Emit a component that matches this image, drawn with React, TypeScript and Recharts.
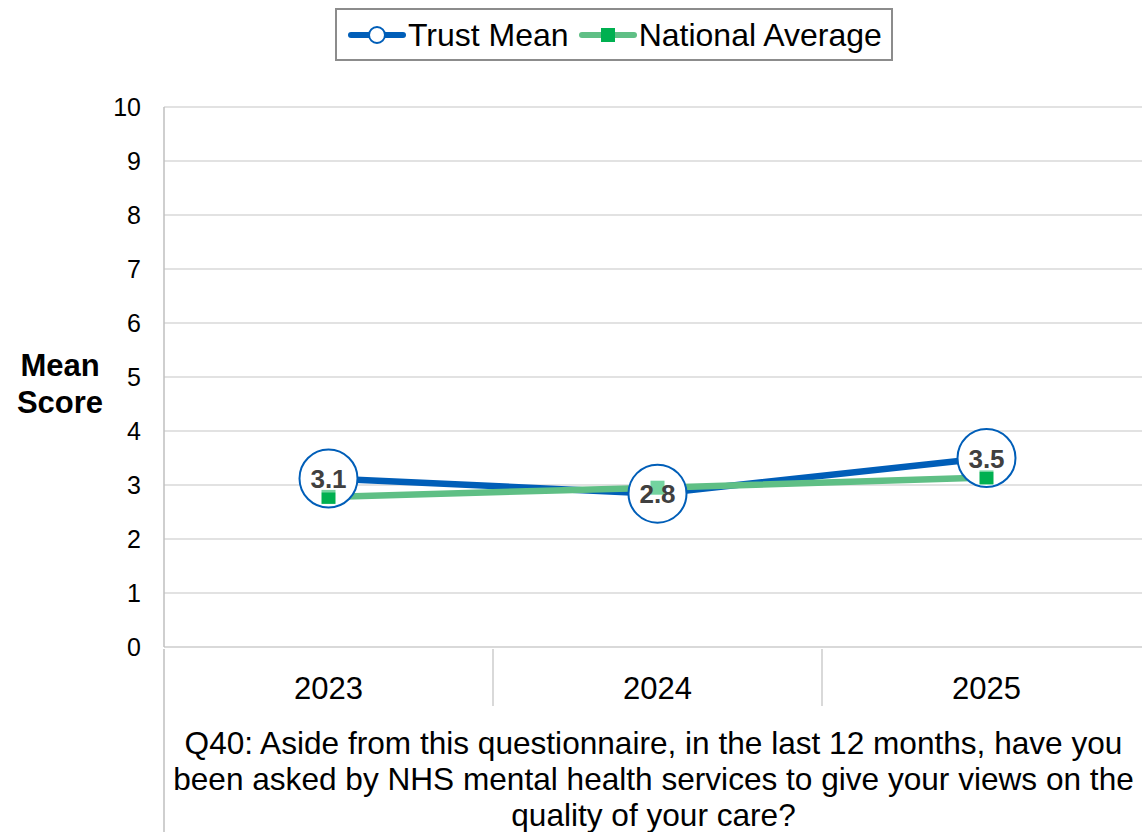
import React from 'react';
import { LineChart, Line, XAxis, YAxis, CartesianGrid, Legend, LabelList } from 'recharts';

const years = ['2023', '2024', '2025'];
const trustMean = [3.12, 2.84, 3.5];
const trustLabels = ['3.1', '2.8', '3.5'];
const nationalAverage = [2.78, 2.95, 3.14];
const yTicks = [0, 1, 2, 3, 4, 5, 6, 7, 8, 9, 10];
const seriesNames = ['Trust Mean', 'National Average'];
const yLabelLines = ['Mean', 'Score'];
const captionLines = [
  'Q40: Aside from this questionnaire, in the last 12 months, have you',
  'been asked by NHS mental health services to give your views on the',
  'quality of your care?',
];

const BLUE = '#005EB8';
const GREEN_LINE = '#5FBF85';
const GREEN_MARK = '#00B050';
const FONT = '"Liberation Sans", Arial, sans-serif';

const data = years.map((y, i) => ({
  year: y,
  trust: trustMean[i],
  national: nationalAverage[i],
  label: trustLabels[i],
}));

const SquareDot = (props: any) => {
  const { cx, cy, index } = props;
  if (cx == null || cy == null) return <g key={`sq-${index}`} />;
  return <rect key={`sq-${index}`} x={cx - 7} y={cy - 7} width={14} height={14} fill={GREEN_MARK} />;
};

const CircleDot = (props: any) => {
  const { cx, cy, index } = props;
  if (cx == null || cy == null) return <g key={`c-${index}`} />;
  return <circle key={`c-${index}`} cx={cx} cy={cy} r={29} fill="#ffffff" stroke={BLUE} strokeWidth={2} />;
};

const DataLabel = (props: any) => {
  const { x, y, value } = props;
  return (
    <g>
      <rect x={x - 19} y={y - 14} width={38} height={28} fill="#ffffff" fillOpacity={0.45} />
      <text x={x} y={y + 9.5} textAnchor="middle" fontFamily={FONT} fontWeight="bold" fontSize={26} fill="#404040">
        {value}
      </text>
    </g>
  );
};

const XTick = (props: any) => {
  const { x, y, payload, index } = props;
  const off = payload && payload.offset ? payload.offset : 164.5;
  return (
    <g>
      {index === 0 ? (
        <line x1={x - off} y1={y} x2={x - off} y2={y + 185} stroke="#BFBFBF" strokeWidth={1.5} />
      ) : (
        <line x1={x - off} y1={y} x2={x - off} y2={y + 57} stroke="#D9D9D9" strokeWidth={2} />
      )}
      <text x={x} y={y + 50} textAnchor="middle" fontFamily={FONT} fontSize={31} fill="#000">
        {payload.value}
      </text>
    </g>
  );
};

const Caption = (props: any) => {
  const vb = props.viewBox || {};
  const cx = vb.x + vb.width / 2 - 4;
  const base = [107, 143, 179];
  return (
    <g>
      {captionLines.map((t, i) => (
        <text key={i} x={cx} y={vb.y + base[i]} textAnchor="middle" fontFamily={FONT} fontSize={31.6} fill="#000">
          {t}
        </text>
      ))}
    </g>
  );
};

const YLabel = (props: any) => {
  const vb = props.viewBox || {};
  const cx = vb.x - 44;
  const mid = vb.y + vb.height / 2;
  return (
    <g>
      {yLabelLines.map((t, i) => (
        <text key={i} x={cx} y={mid - 1 + i * 37} textAnchor="middle" fontFamily={FONT} fontWeight="bold" fontSize={31} fill="#000">
          {t}
        </text>
      ))}
    </g>
  );
};

const LegendBox = () => (
  <div
    style={{
      width: 558,
      height: 53,
      boxSizing: 'border-box',
      border: '2px solid #8C8C8C',
      display: 'flex',
      alignItems: 'center',
      paddingLeft: 11,
      fontFamily: FONT,
      fontSize: 32,
      color: '#000',
      background: '#fff',
      whiteSpace: 'nowrap',
    }}
  >
    <svg width={58} height={24} style={{ display: 'block', flexShrink: 0 }}>
      <line x1={3} y1={12} x2={55} y2={12} stroke={BLUE} strokeWidth={6} strokeLinecap="round" />
      <circle cx={29} cy={12} r={8} fill="#fff" stroke={BLUE} strokeWidth={2} />
    </svg>
    <span style={{ marginLeft: 2, lineHeight: '32px' }}>{seriesNames[0]}</span>
    <svg width={58} height={24} style={{ display: 'block', marginLeft: 10, flexShrink: 0 }}>
      <line x1={3} y1={12} x2={55} y2={12} stroke={GREEN_LINE} strokeWidth={6} strokeLinecap="round" />
      <rect x={22} y={5} width={14} height={14} fill={GREEN_MARK} />
    </svg>
    <span style={{ marginLeft: 2, lineHeight: '32px' }}>{seriesNames[1]}</span>
  </div>
);

export default function App() {
  return (
    <div style={{ position: 'absolute', left: 0, top: 0, width: 1142, height: 832, overflow: 'hidden', background: '#fff' }}>
      <LineChart width={1160} height={832} data={data} margin={{ top: 107, right: 9, bottom: 0, left: 104 }}>
        <CartesianGrid vertical={false} stroke="#D9D9D9" strokeWidth={1.5} />
        <XAxis
          dataKey="year"
          scale="band"
          height={185}
          tickSize={0}
          tickLine={false}
          axisLine={{ stroke: '#D9D9D9', strokeWidth: 2 }}
          tick={<XTick />}
          interval={0}
          label={<Caption />}
        />
        <YAxis
          width={60}
          domain={[0, 10]}
          ticks={yTicks}
          tickSize={0}
          tickMargin={23}
          axisLine={{ stroke: '#BFBFBF', strokeWidth: 1.5 }}
          tick={{ fontSize: 25, fill: '#000', fontFamily: FONT }}
          label={<YLabel />}
          interval={0}
        />
        <Legend
          layout="horizontal"
          verticalAlign="middle"
          align="center"
          wrapperStyle={{ top: 8, left: 335, width: 558, height: 53 }}
          content={<LegendBox />}
        />
        <Line dataKey="trust" name={seriesNames[0]} stroke={BLUE} strokeWidth={6.5} dot={<CircleDot />} activeDot={false} isAnimationActive={false} />
        <Line dataKey="national" name={seriesNames[1]} stroke={GREEN_LINE} strokeWidth={6.5} dot={<SquareDot />} activeDot={false} isAnimationActive={false} />
        <Line dataKey="trust" name="trust-labels" stroke="none" dot={false} activeDot={false} isAnimationActive={false} legendType="none">
          <LabelList dataKey="label" content={<DataLabel />} />
        </Line>
      </LineChart>
    </div>
  );
}
